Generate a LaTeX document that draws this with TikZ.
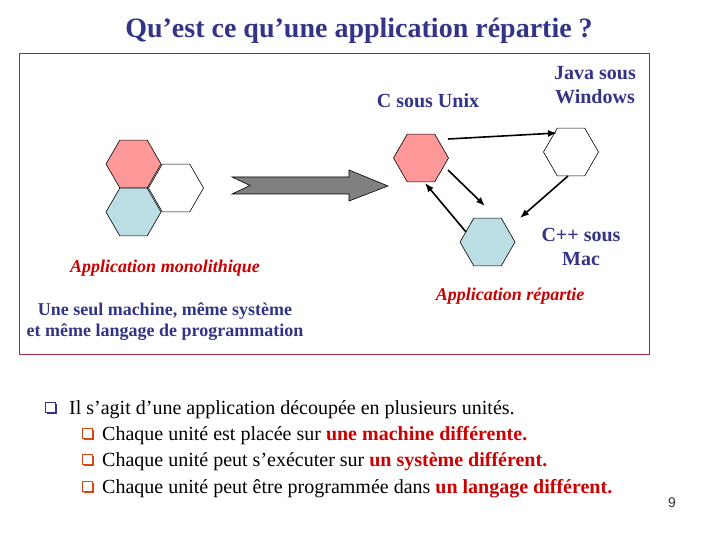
\documentclass[tikz,border=0pt]{standalone}
\usepackage{fontspec}
\setmainfont{Liberation Serif}
\newfontfamily\pagefont{Liberation Sans}
\usetikzlibrary{shapes.geometric,arrows.meta,calc,shadows}

\definecolor{navy}{RGB}{51,51,136}
\definecolor{redtxt}{RGB}{204,0,0}
\definecolor{framered}{RGB}{160,40,60}
\definecolor{hexpink}{RGB}{255,153,153}
\definecolor{hexblue}{RGB}{187,222,228}
\definecolor{subbox}{RGB}{220,70,20}

\begin{document}
\begin{tikzpicture}[x=1pt,y=-1pt,
	hexa/.style={regular polygon, regular polygon sides=6, minimum size=55pt,
		inner sep=0pt, draw=black, line width=0.6pt},
	lab/.style={font=\bfseries\fontsize{20}{24}\selectfont, text=navy,
		align=center, inner sep=0pt},
	apptitle/.style={font=\bfseries\itshape\fontsize{18}{20}\selectfont,
		text=redtxt, inner sep=0pt},
	link/.style={line width=1.6pt, -{Latex[length=9pt,width=7pt]}},
	qbox/.style={draw=#1, line width=0.8pt, minimum size=10pt, inner sep=0pt,
		fill=white, general shadow={shadow xshift=1.5pt, shadow yshift=-1.5pt,
		fill=#1}},
	body/.style={font=\fontsize{20}{24}\selectfont, anchor=base west, inner sep=0pt}]

	\useasboundingbox (0,0) rectangle (720,540);

	\node[font=\bfseries\fontsize{28}{32}\selectfont, text=navy] (title) at (359,31)
	{Qu’est ce qu’une application répartie ?};

	\draw[framered, line width=1pt] (19,54) rectangle (649,354);

	% application monolithique
	\node[hexa, fill=hexpink] (monoA) at (133.5,164) {};
	\node[hexa, fill=hexblue] (monoB) at (133.5,212) {};
	\node[hexa, fill=white] (monoC) at (176,188) {};

	\draw[fill=gray, line width=0.6pt] (232,177) -- (349,177) -- (349,170) -- (388,186)
		-- (349,201) -- (349,194) -- (232,194) -- (250,185.5) -- cycle;

	% application repartie
	\node[hexa, fill=hexpink] (unix) at (421,158) {};
	\node[hexa, fill=white] (java) at (571,152) {};
	\node[hexa, fill=hexblue] (mac) at (487.5,242) {};

	\draw[link] ($(unix)+(27,-19)$) -- ($(java)+(-14,-19)$);
	\draw[link] ($(unix)+(27,12)$) -- ($(mac)+(-2.5,-36)$);
	\draw[link] ($(mac)+(-21.5,-10)$) -- ($(unix)+(4,25)$);
	\draw[link] ($(java)+(-3,24)$) -- ($(mac)+(32.5,-24)$);

	\node[lab] (unixlab) at (428,101) {C sous Unix};
	\node[lab] (javalab) at (595,85) {Java sous\\Windows};
	\node[lab] (maclab) at (581,247) {C++ sous\\Mac};

	\node[apptitle] (monolab) at (165,268) {Application monolithique};
	\node[apptitle] (replab) at (510,296) {Application répartie};
	\node[lab, font=\bfseries\fontsize{18}{21}\selectfont] (monotxt) at (165,322)
	{Une seul machine, même système\\et même langage de programmation};

	% puces
	\node[qbox=navy] (q0) at (50,407) {};
	\node[qbox=subbox] (q1) at (87,433) {};
	\node[qbox=subbox] (q2) at (87,459) {};
	\node[qbox=subbox] (q3) at (87,486) {};
	\node[body] (l0) at (69,414) {Il s’agit d’une application découpée en plusieurs unités.};
	\node[body] (l1) at (102,440) {Chaque unité est placée sur \textcolor{redtxt}{\bfseries une machine différente.}};
	\node[body] (l2) at (102,466) {Chaque unité peut s’exécuter sur \textcolor{redtxt}{\bfseries un système différent.}};
	\node[body] (l3) at (102,493) {Chaque unité peut être programmée dans \textcolor{redtxt}{\bfseries un langage différent.}};

	\node[font=\pagefont\fontsize{14}{16}\selectfont, text=black!80] (page) at (672,503) {9};
\end{tikzpicture}
\end{document}
